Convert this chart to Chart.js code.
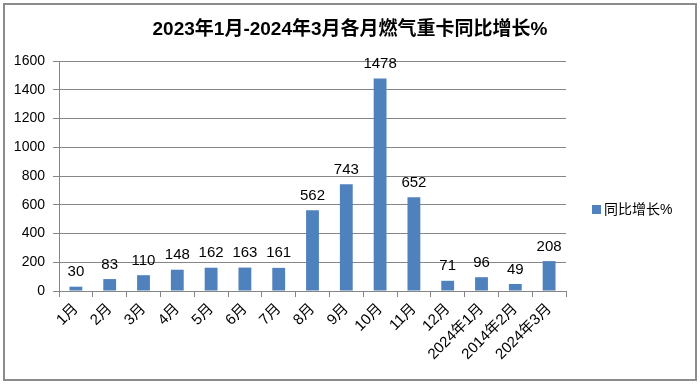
<!DOCTYPE html>
<html>
<head>
<meta charset="utf-8">
<script src="https://cdn.jsdelivr.net/npm/chart.js@4"></script>
<style>
  html, body { margin: 0; padding: 0; background: #fff; }
  #wrap { width: 700px; height: 384px; position: relative; }
</style>
</head>
<body>
<div id="wrap"><canvas id="c" width="700" height="384"></canvas></div>
<script>
// 数据
const months = ['1月', '2月', '3月', '4月', '5月', '6月', '7月', '8月', '9月', '10月', '11月', '12月', '2024年1月', '2014年2月', '2024年3月'];
const growth = [30, 83, 110, 148, 162, 163, 161, 562, 743, 1478, 652, 71, 96, 49, 208];
const yTicks = [0, 200, 400, 600, 800, 1000, 1200, 1400, 1600];
const chartTitle = '2023年1月-2024年3月各月燃气重卡同比增长%';

const FONT = '"Liberation Sans", "Noto Sans CJK SC", sans-serif';
const BAR = '#4f81bd';

// 外框、标题、数值标签、图例
const extras = {
    id: 'extras',
    beforeDraw(chart) {
        const ctx = chart.ctx;
        ctx.save();
        ctx.strokeStyle = '#8c8c8c';
        ctx.lineWidth = 2;
        ctx.strokeRect(4, 4, 692, 376);
        ctx.fillStyle = '#000';
        ctx.font = 'bold 19px ' + FONT;
        ctx.textAlign = 'center';
        ctx.textBaseline = 'middle';
        ctx.fillText(chartTitle, 350, 30);
        ctx.restore();
    },
    afterDatasetsDraw(chart) {
        const ctx = chart.ctx;
        const meta = chart.getDatasetMeta(0);
        ctx.save();
        ctx.font = '15px ' + FONT;
        ctx.fillStyle = '#000';
        ctx.textAlign = 'center';
        ctx.textBaseline = 'bottom';
        meta.data.forEach((bar, i) => {
            ctx.fillText(growth[i], bar.x, bar.y - 7);
        });
        ctx.restore();
    },
    afterDraw(chart) {
        const ctx = chart.ctx;
        ctx.save();
        ctx.fillStyle = BAR;
        ctx.fillRect(592, 205, 9, 9);
        ctx.fillStyle = '#000';
        ctx.font = '14px ' + FONT;
        ctx.textBaseline = 'middle';
        ctx.fillText('同比增长%', 604, 210);
        ctx.restore();
    }
};

new Chart(document.getElementById('c'), {
    type: 'bar',
    data: {
        labels: months,
        datasets: [{
            label: '同比增长%',
            data: growth,
            backgroundColor: BAR,
            barPercentage: 0.38,
            categoryPercentage: 1
        }]
    },
    options: {
        responsive: false,
        animation: false,
        layout: { padding: { left: 8, right: 134, top: 61, bottom: 0 } },
        plugins: {
            legend: { display: false },
            tooltip: { enabled: false },
            title: { display: false }
        },
        scales: {
            x: {
                grid: { display: true, drawOnChartArea: false, drawTicks: true, tickLength: 6, color: '#868686' },
                border: { color: '#868686' },
                ticks: {
                    color: '#000',
                    font: { family: FONT, size: 15 },
                    minRotation: 45,
                    maxRotation: 45,
                    autoSkip: false,
                    padding: 3
                },
                afterFit(s) { s.height = 93; }
            },
            y: {
                min: 0,
                max: 1600,
                afterBuildTicks(s) { s.ticks = yTicks.map(v => ({ value: v })); },
                grid: { color: '#868686', tickLength: 6 },
                border: { color: '#868686' },
                ticks: {
                    color: '#000',
                    font: { family: FONT, size: 14 },
                    padding: 8,
                    callback: v => String(v)
                },
                afterFit(s) { s.width = 51; }
            }
        }
    },
    plugins: [extras]
});
</script>
</body>
</html>
